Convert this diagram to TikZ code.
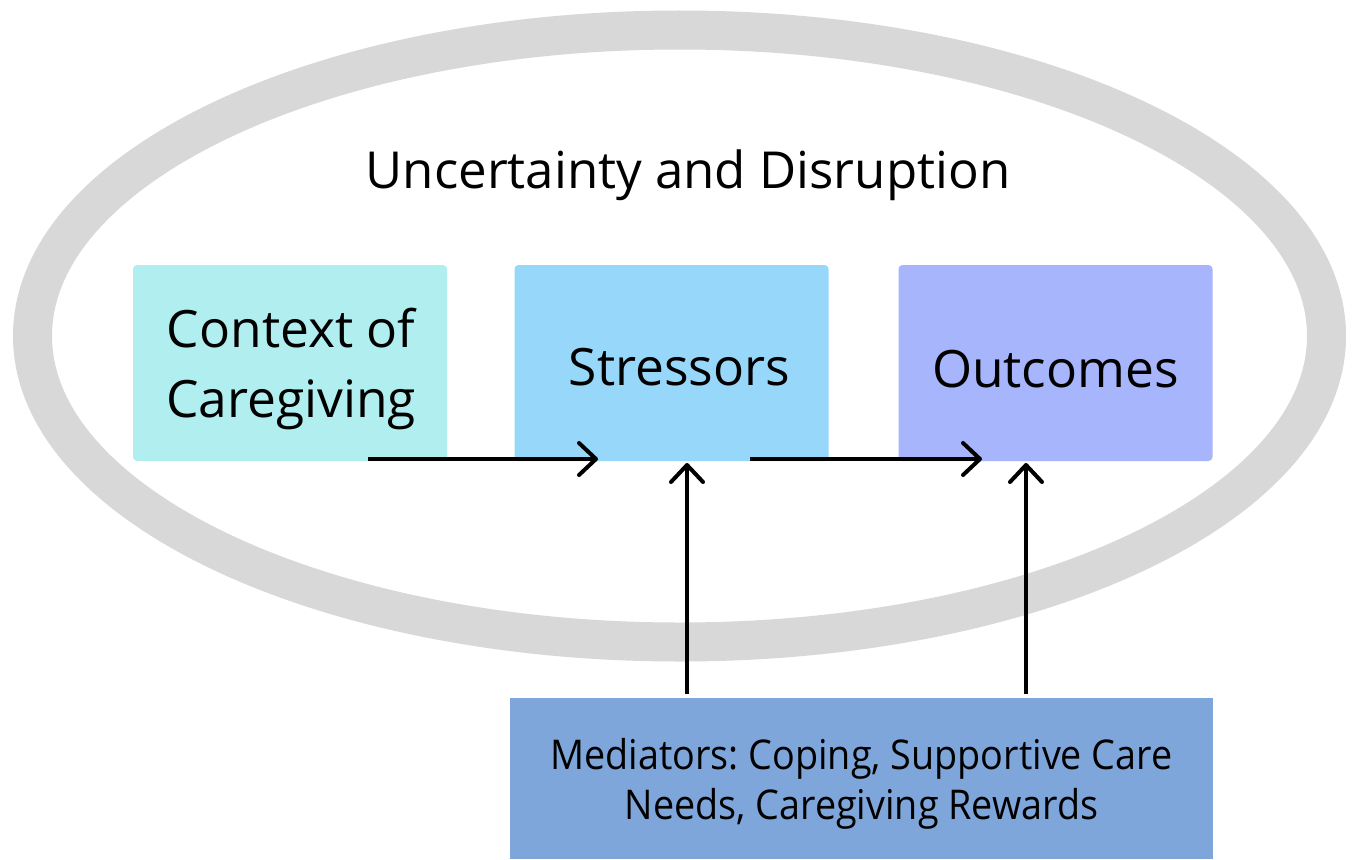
\documentclass[tikz,border=0pt]{standalone}
\usepackage{fontspec}
\setmainfont{Open Sans}
\newfontfamily\medfont[FakeStretch=0.92]{Open Sans}
\usetikzlibrary{arrows.meta}
\definecolor{ringgray}{RGB}{216,216,216}
\definecolor{ctxcol}{RGB}{176,238,240}
\definecolor{strcol}{RGB}{150,215,250}
\definecolor{outcol}{RGB}{166,181,252}
\definecolor{medcol}{RGB}{127,166,218}
\tikzset{
  box/.style={rectangle, rounded corners=4pt, inner sep=0pt, minimum width=314pt,
    minimum height=196pt},
  boxtext/.style={align=center, text=black, inner sep=0pt, font=\fontsize{51.5}{70}\selectfont},
  medtext/.style={align=center, text=black, inner sep=0pt, font=\medfont\fontsize{41}{50}\selectfont},
  flow/.style={line width=4pt, -{Straight Barb[length=17pt, width=32pt, line width=4pt, round]}}
}
\begin{document}
\frenchspacing
\begin{tikzpicture}[x=1pt, y=-1pt]
  \useasboundingbox (0,0) rectangle (1356,859);
  \fill[white] (0,0) rectangle (1356,859);
  % surrounding ring
  \draw[ringgray, line width=39pt] (679.5,336) ellipse [x radius=647, y radius=306];
  \node (title) at (688,175) {\fontsize{51}{60}\selectfont Uncertainty and Disruption};
  % main boxes, each with its text label
  \node[box, fill=ctxcol,
    label={[name=ctxtext, boxtext, yshift=-6pt, xshift=1pt]center:Context of\\Caregiving}] (ctx) at (290,363) {};
  \node[box, fill=strcol,
    label={[name=strtext, boxtext, yshift=-4pt, xshift=8pt]center:Stressors}] (str) at (671.5,363) {};
  \node[box, fill=outcol,
    label={[name=outtext, boxtext, yshift=-6pt]center:Outcomes}] (out) at (1055.5,363) {};
  \node[rectangle, fill=medcol, inner sep=0pt, minimum width=703pt, minimum height=161pt,
    label={[name=medtext, medtext, yshift=-5pt]center:Mediators: Coping, Supportive Care\\Needs, Caregiving Rewards}]
    (med) at (861.5,778.5) {};
  % connector ends
  \coordinate (c1) at (368,459);
  \coordinate (s1) at (598,459);
  \coordinate (s2) at (750,459);
  \coordinate (o1) at (982,459);
  \coordinate (m1) at (687,694);
  \coordinate (s3) at (687,463);
  \coordinate (m2) at (1026,694);
  \coordinate (o2) at (1026,463);
  \draw[flow] (c1) -- (s1);
  \draw[flow] (s2) -- (o1);
  \draw[flow] (m1) -- (s3);
  \draw[flow] (m2) -- (o2);
\end{tikzpicture}
\end{document}
